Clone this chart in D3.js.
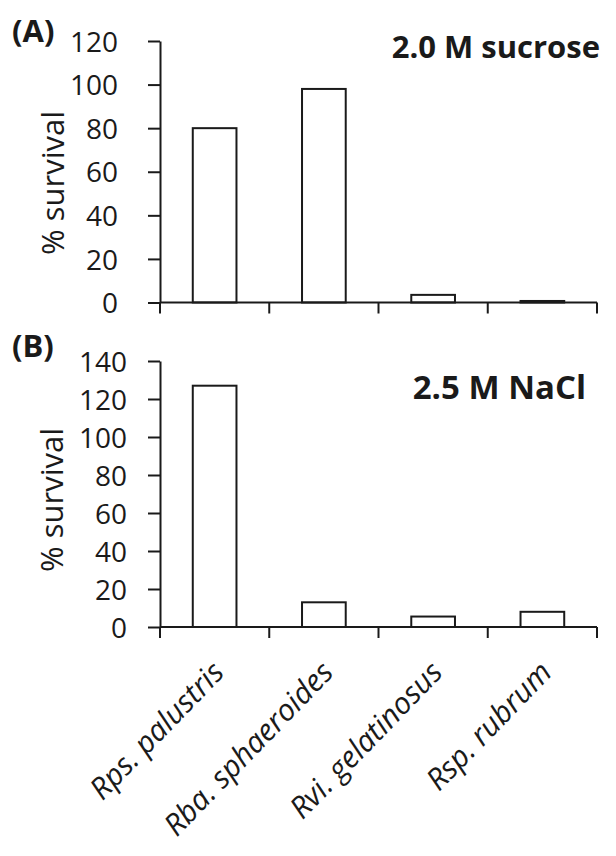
<!DOCTYPE html>
<html>
<head>
<meta charset="utf-8">
<script src="https://cdn.jsdelivr.net/npm/d3@7"></script>
<style>
  body { margin: 0; background: #fff; }
  svg text { font-family: "Open Sans", sans-serif; fill: #1a1a1a; }
</style>
</head>
<body>
<svg id="chart" width="616" height="856"></svg>
<script>
// data
const species = ['Rps. palustris', 'Rba. sphaeroides', 'Rvi. gelatinosus', 'Rsp. rubrum'];
const sucroseSurvival = [80, 98, 3.5, 0.7];
const naclSurvival = [127, 13, 5.5, 8];
const sucroseTicks = [0, 20, 40, 60, 80, 100, 120];
const naclTicks = [0, 20, 40, 60, 80, 100, 120, 140];

const svg = d3.select('#chart');
const ink = '#1a1a1a';

const x = d3.scaleBand()
  .domain(species)
  .range([160, 597])
  .paddingInner(0.6)
  .paddingOuter(0.3);

function drawPanel(cfg) {
  const g = svg.append('g');
  const y = d3.scaleLinear()
    .domain([0, d3.max(cfg.ticks)])
    .range([cfg.bottom, cfg.top]);

  // bars
  g.selectAll('rect')
    .data(cfg.values)
    .enter()
    .append('rect')
    .attr('x', (d, i) => x(species[i]))
    .attr('y', d => y(d))
    .attr('width', x.bandwidth())
    .attr('height', d => y(0) - y(d))
    .style('fill', '#fff')
    .style('stroke', ink)
    .style('stroke-width', 2);

  // y axis
  const yAxis = g.append('g')
    .attr('transform', `translate(${x.range()[0]},0)`)
    .call(d3.axisLeft(y).tickValues(cfg.ticks).tickSize(12).tickSizeOuter(0).tickPadding(cfg.pad));
  yAxis.select('.domain').attr('stroke', ink).attr('stroke-width', 2);
  yAxis.selectAll('.tick line').attr('stroke', ink).attr('stroke-width', 2);
  yAxis.selectAll('.tick text')
    .attr('font-family', '"Open Sans", sans-serif')
    .attr('font-size', 28)
    .attr('fill', ink)
    .attr('dy', '0.36em');

  // x axis: baseline with ticks between the categories
  const x0 = x.range()[0];
  const bounds = d3.range(species.length + 1).map(i => x0 + i * x.step());
  g.append('line')
    .attr('x1', x0).attr('x2', x.range()[1])
    .attr('y1', y(0)).attr('y2', y(0))
    .style('stroke', ink).style('stroke-width', 2);
  g.selectAll('.xtick')
    .data(bounds)
    .enter()
    .append('line')
    .attr('class', 'xtick')
    .attr('x1', d => d).attr('x2', d => d)
    .attr('y1', y(0)).attr('y2', y(0) + 11)
    .style('stroke', ink).style('stroke-width', 2);

  // y label
  g.append('text')
    .attr('transform', `translate(${cfg.labelX},${cfg.labelY}) rotate(-90)`)
    .attr('text-anchor', 'middle')
    .style('font-size', '31px')
    .text('% survival');

  // panel letter and condition
  g.append('text')
    .attr('x', 12).attr('y', cfg.letterY)
    .style('font-size', '31px').style('font-weight', 'bold')
    .text(cfg.letter);
  g.append('text')
    .attr('x', cfg.titleX).attr('y', cfg.titleY)
    .attr('text-anchor', 'end')
    .style('font-size', cfg.titleSize).style('font-weight', 'bold')
    .text(cfg.title);

  return y;
}

drawPanel({
  values: sucroseSurvival, ticks: sucroseTicks, top: 41, bottom: 302.5, pad: 30,
  labelX: 64, labelY: 183, letter: '(A)', letterY: 42,
  title: '2.0 M sucrose', titleX: 600, titleY: 58, titleSize: '31px',
});
drawPanel({
  values: naclSurvival, ticks: naclTicks, top: 361, bottom: 627, pad: 21,
  labelX: 63, labelY: 500, letter: '(B)', letterY: 357,
  title: '2.5 M NaCl', titleX: 586, titleY: 399, titleSize: '33px',
});

// category labels under the lower panel
svg.selectAll('.cat')
  .data(species)
  .enter()
  .append('text')
  .attr('class', 'cat')
  .attr('transform', d => `translate(${x(d) + x.bandwidth() / 2 + 11},${674}) rotate(-46)`)
  .attr('text-anchor', 'end')
  .style('font-size', '30px')
  .style('font-style', 'italic')
  .text(d => d);
</script>
</body>
</html>
